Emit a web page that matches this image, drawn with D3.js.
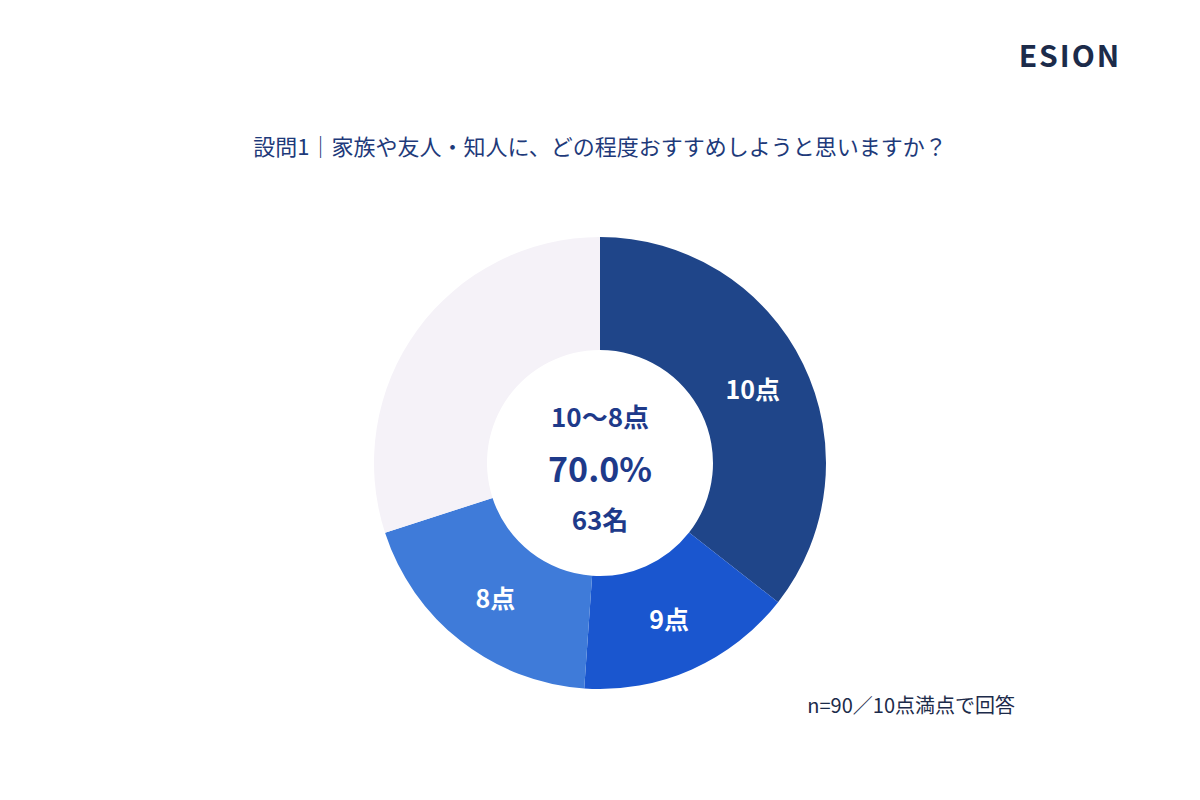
<!DOCTYPE html>
<html>
<head>
<meta charset="utf-8">
<script src="https://cdn.jsdelivr.net/npm/d3@7.9.0/dist/d3.min.js"></script>
<style>
  body { margin: 0; background: #fff; }
  svg text { font-family: "Noto Sans CJK JP", "Noto Sans", sans-serif; }
</style>
</head>
<body>
<svg id="chart" width="1200" height="800"></svg>
<script>
// Answer groups and counts (n=90)
const labels = ['10点', '9点', '8点', 'その他'];
const counts = [32, 14, 17, 27];
const colors = ['#1f4589', '#1a56cf', '#3f7bd9', '#f5f2f8'];
const showLabel = [true, true, true, false];
const centerLines = ['10〜8点', '70.0%', '63名'];

const svg = d3.select('#chart');
const cx = 600, cy = 463, outerR = 226, innerR = 113;

svg.append('text')
  .attr('x', 1070).attr('y', 67)
  .attr('text-anchor', 'middle')
  .attr('font-size', 30).attr('font-weight', 700)
  .attr('letter-spacing', 2)
  .attr('fill', '#1c2b4a')
  .text('ESION');

svg.append('text')
  .attr('x', 600).attr('y', 155)
  .attr('text-anchor', 'middle')
  .attr('font-size', 22)
  .attr('fill', '#1e3a7a')
  .text('設問1｜家族や友人・知人に、どの程度おすすめしようと思いますか？');

const pie = d3.pie().sort(null).value(d => d)(counts);
const arc = d3.arc().innerRadius(innerR).outerRadius(outerR);
const labelArc = d3.arc().innerRadius(170).outerRadius(170);

const g = svg.append('g').attr('transform', `translate(${cx},${cy})`);
g.selectAll('path').data(pie).join('path')
  .attr('d', arc)
  .attr('fill', (d, i) => colors[i]);

g.selectAll('text.lbl').data(pie.filter((d, i) => showLabel[i])).join('text')
  .attr('class', 'lbl')
  .attr('transform', d => `translate(${labelArc.centroid(d)})`)
  .attr('text-anchor', 'middle')
  .attr('dominant-baseline', 'central')
  .attr('font-size', 25).attr('font-weight', 700)
  .attr('fill', '#fff')
  .text(d => labels[d.index]);

const sizes = [26, 34, 26];
const ys = [-48, 4, 55];
g.selectAll('text.ctr').data(centerLines).join('text')
  .attr('class', 'ctr')
  .attr('x', 0).attr('y', (d, i) => ys[i])
  .attr('text-anchor', 'middle')
  .attr('dominant-baseline', 'central')
  .attr('font-size', (d, i) => sizes[i]).attr('font-weight', 700)
  .attr('fill', '#1e3a8a')
  .text(d => d);

svg.append('text')
  .attr('x', 1015).attr('y', 713)
  .attr('text-anchor', 'end')
  .attr('font-size', 20)
  .attr('fill', '#1c2b4a')
  .text('n=90／10点満点で回答');
</script>
</body>
</html>
